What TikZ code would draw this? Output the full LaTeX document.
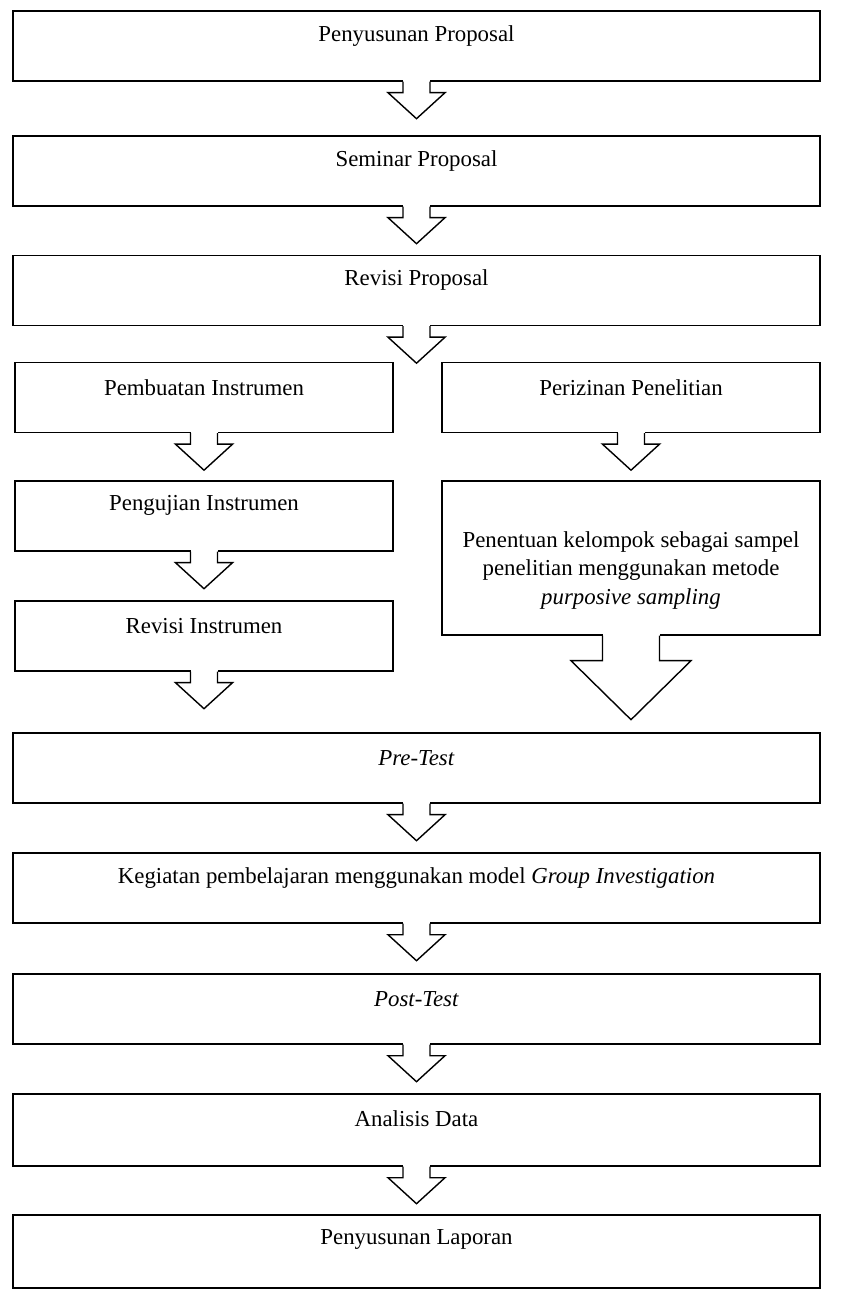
\documentclass[tikz,border=0pt]{standalone}
\usepackage{fontspec}
\setmainfont{Liberation Serif}
\usepackage{tikz}

\tikzset{
	stage/.style={draw, line width=0.8pt, inner sep=0pt, minimum width=16.14cm, minimum height=1.4cm},
	halfstage/.style={stage, minimum width=7.56cm},
	caption/.style={font=\fontsize{13}{16}\selectfont, align=center, inner sep=0pt},
}
\newcommand{\blockarrow}[5]{%
	\begin{scope}[shift={(#1)}]
		\fill[white] (-#2,-2) rectangle (#2,#4);
		\draw[line width=0.8pt] (-#2,0) -- (-#2,#4) -- (-#3,#4) -- (0,#4+#5) -- (#3,#4) -- (#2,#4) -- (#2,0);
	\end{scope}}

\begin{document}
\begin{tikzpicture}[x=0.02cm, y=-0.02cm]
		\useasboundingbox (0,0) rectangle (859,1293);
		\node[stage] (b1) at (416.5,46) {};
		\node[stage] (b2) at (416.5,171) {};
		\node[stage] (b3) at (416.5,290.5) {};
		\node[halfstage] (l1) at (204,397.5) {};
		\node[halfstage] (r1) at (631,397.5) {};
		\node[halfstage] (l2) at (204,516) {};
		\node[halfstage, minimum height=3.08cm] (r2) at (631,558) {};
		\node[halfstage] (l3) at (204,636) {};
		\node[stage] (b4) at (416.5,768) {};
		\node[stage] (b5) at (416.5,888) {};
		\node[stage] (b6) at (416.5,1009) {};
		\node[stage, minimum height=1.44cm] (b7) at (416.5,1130) {};
		\node[stage, minimum height=1.46cm] (b8) at (416.5,1251.5) {};

		\node[caption] (t1) at ([yshift=-14.5pt]b1.north) {Penyusunan Proposal};
		\node[caption] (t2) at ([yshift=-14.5pt]b2.north) {Seminar Proposal};
		\node[caption] (t3) at ([yshift=-14.5pt]b3.north) {Revisi Proposal};
		\node[caption] (tl1) at ([yshift=-14.5pt]l1.north) {Pembuatan Instrumen};
		\node[caption] (tr1) at ([yshift=-14.5pt]r1.north) {Perizinan Penelitian};
		\node[caption] (tl2) at ([yshift=-14.5pt]l2.north) {Pengujian Instrumen};
		\node[caption] (tr2) at ([yshift=-0.25cm]r2.center) {Penentuan kelompok sebagai sampel\\penelitian menggunakan metode\\\textit{purposive sampling}};
		\node[caption] (tl3) at ([yshift=-14.5pt]l3.north) {Revisi Instrumen};
		\node[caption] (t4) at ([yshift=-14.5pt]b4.north) {\textit{Pre-Test}};
		\node[caption] (t5) at ([yshift=-14.5pt]b5.north) {Kegiatan pembelajaran menggunakan model \textit{Group Investigation}};
		\node[caption] (t6) at ([yshift=-14.5pt]b6.north) {\textit{Post-Test}};
		\node[caption] (t7) at ([yshift=-14.5pt]b7.north) {Analisis Data};
		\node[caption] (t8) at ([yshift=-14.5pt]b8.north) {Penyusunan Laporan};

		\blockarrow{b1.south}{13.5}{28.5}{11}{26}
		\blockarrow{b2.south}{13.5}{28.5}{11}{26}
		\blockarrow{b3.south}{13.5}{28.5}{11}{26}
		\blockarrow{l1.south}{13.5}{28.5}{11}{26}
		\blockarrow{r1.south}{13.5}{28.5}{11}{26}
		\blockarrow{l2.south}{13.5}{28.5}{11}{26}
		\blockarrow{r2.south}{28.5}{60}{25}{59}
		\blockarrow{l3.south}{13.5}{28.5}{11}{26}
		\blockarrow{b4.south}{13.5}{28.5}{11}{26}
		\blockarrow{b5.south}{13.5}{28.5}{11}{26}
		\blockarrow{b6.south}{13.5}{28.5}{11}{26}
		\blockarrow{b7.south}{13.5}{28.5}{11}{26}
	\end{tikzpicture}
\end{document}
